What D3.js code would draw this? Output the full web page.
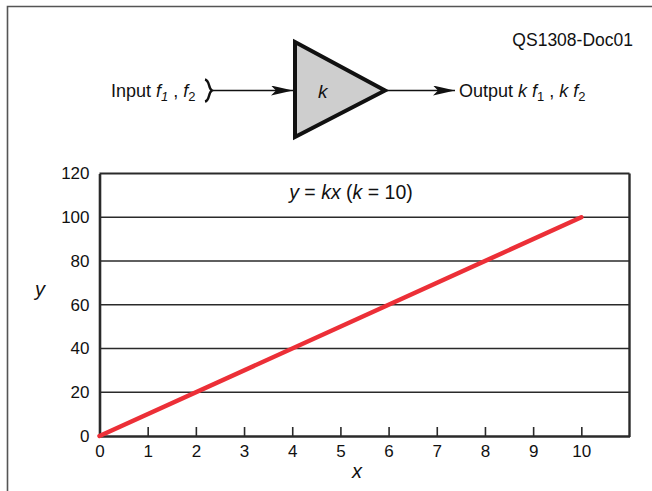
<!DOCTYPE html>
<html>
<head>
<meta charset="utf-8">
<script src="https://cdn.jsdelivr.net/npm/d3@7"></script>
<style>
  html, body { margin: 0; padding: 0; background: #fff; }
  svg { display: block; font-family: "Liberation Sans", Arial, sans-serif; }
</style>
</head>
<body>
<svg id="chart" width="652" height="491"></svg>
<script>
// Gain k applied to the input: y = k x
const gainK = 10;
const xValues = [0, 10];
const yValues = [0, 100];
const xTicks = [0, 1, 2, 3, 4, 5, 6, 7, 8, 9, 10];
const yTicks = [0, 20, 40, 60, 80, 100, 120];

const svg = d3.select("#chart");
const W = 652, H = 491;
const FONT = "Liberation Sans, Arial, sans-serif";

// outer frame (runs off the right and bottom edges)
svg.append("path")
  .attr("d", `M7.5,${H + 5} V6.5 H${W + 5}`)
  .attr("fill", "none")
  .attr("stroke", "#555")
  .attr("stroke-width", 1.6);

svg.append("text")
  .attr("x", 633).attr("y", 46)
  .attr("text-anchor", "end")
  .attr("font-size", 17.5)
  .attr("fill", "#111")
  .text("QS1308-Doc01");

// ---------- amplifier block diagram ----------
const defs = svg.append("defs");
defs.append("marker")
  .attr("id", "arrow")
  .attr("viewBox", "0 0 22 10")
  .attr("refX", 22).attr("refY", 5)
  .attr("markerWidth", 22).attr("markerHeight", 10)
  .attr("markerUnits", "userSpaceOnUse")
  .attr("orient", "auto")
  .append("path")
  .attr("d", "M0,0 L22,5 L0,10 L5,5 Z")
  .attr("fill", "#111");

const midY = 90.5;

// input line with brace
svg.append("line")
  .attr("x1", 211).attr("y1", midY).attr("x2", 293).attr("y2", midY)
  .attr("stroke", "#111").attr("stroke-width", 1.6)
  .attr("marker-end", "url(#arrow)");
svg.append("path")
  .attr("d", `M205,${midY - 11} C210,${midY - 10} 208,${midY - 2} 212,${midY} C208,${midY + 2} 210,${midY + 10} 205,${midY + 11}`)
  .attr("fill", "none").attr("stroke", "#111").attr("stroke-width", 2.4);

// output line
svg.append("line")
  .attr("x1", 386).attr("y1", midY).attr("x2", 455).attr("y2", midY)
  .attr("stroke", "#111").attr("stroke-width", 1.6)
  .attr("marker-end", "url(#arrow)");

// triangle
svg.append("path")
  .attr("d", `M295,42 L385,${midY} L295,137 Z`)
  .attr("fill", "#cecece")
  .attr("stroke", "#111")
  .attr("stroke-width", 4)
  .attr("stroke-linejoin", "miter");

svg.append("text")
  .attr("x", 318).attr("y", 98)
  .attr("font-size", 19).attr("font-style", "italic").attr("fill", "#111")
  .text("k");

// input label
const inLabel = svg.append("text")
  .attr("x", 111).attr("y", 97)
  .attr("font-size", 18).attr("fill", "#111");
inLabel.append("tspan").text("Input ");
inLabel.append("tspan").attr("font-style", "italic").text("f");
inLabel.append("tspan").attr("font-style", "italic").attr("font-size", 13).attr("dy", 4).text("1");
inLabel.append("tspan").attr("dy", -4).text(" , ");
inLabel.append("tspan").attr("font-style", "italic").text("f");
inLabel.append("tspan").attr("font-size", 13).attr("dy", 4).text("2");

// output label
const outLabel = svg.append("text")
  .attr("x", 459).attr("y", 97)
  .attr("font-size", 18).attr("fill", "#111");
outLabel.append("tspan").text("Output ");
outLabel.append("tspan").attr("font-style", "italic").text("k f");
outLabel.append("tspan").attr("font-size", 13).attr("dy", 4).text("1");
outLabel.append("tspan").attr("dy", -4).text(" , ");
outLabel.append("tspan").attr("font-style", "italic").text("k f");
outLabel.append("tspan").attr("font-size", 13).attr("dy", 4).text("2");

// ---------- chart ----------
const plot = { left: 99.5, right: 629.5, top: 173.5, bottom: 436 };
const x = d3.scaleLinear().domain([0, 11]).range([plot.left, plot.right]);
const y = d3.scaleLinear().domain([0, 120]).range([plot.bottom, plot.top]);

// horizontal gridlines
svg.append("g")
  .selectAll("line")
  .data(yTicks.filter(t => t > 0 && t < 120))
  .join("line")
  .attr("x1", plot.left).attr("x2", plot.right)
  .attr("y1", d => y(d)).attr("y2", d => y(d))
  .attr("stroke", "#2a2a2a").attr("stroke-width", 1.3);

// frame: top and right thinner, left and bottom axes heavier
svg.append("line")
  .attr("x1", plot.left).attr("x2", plot.right)
  .attr("y1", plot.top).attr("y2", plot.top)
  .attr("stroke", "#2a2a2a").attr("stroke-width", 2);
svg.append("line")
  .attr("x1", plot.right).attr("x2", plot.right)
  .attr("y1", plot.top).attr("y2", plot.bottom + 1)
  .attr("stroke", "#2a2a2a").attr("stroke-width", 2.4);

// y axis labels (no tick marks)
const yAxis = d3.axisLeft(y).tickValues(yTicks).tickSize(0).tickPadding(10);
const gy = svg.append("g").attr("transform", `translate(${plot.left},0)`)
  .call(yAxis)
  .attr("font-size", 17).attr("font-family", FONT);
gy.select(".domain").attr("stroke", "#2a2a2a").attr("stroke-width", 2.6);
gy.selectAll("text").attr("fill", "#111");

// x axis with inward ticks
const xAxis = d3.axisBottom(x).tickValues(xTicks).tickSize(-9).tickPadding(0).tickSizeOuter(0);
const gx = svg.append("g").attr("transform", `translate(0,${plot.bottom})`)
  .call(xAxis)
  .attr("font-size", 17).attr("font-family", FONT);
gx.select(".domain").attr("stroke", "#2a2a2a").attr("stroke-width", 2.6);
gx.selectAll(".tick line").attr("stroke", "#2a2a2a").attr("stroke-width", 1.6);
gx.selectAll("text").attr("fill", "#111").attr("y", 0).attr("dy", "1.25em");

// the y = kx line
const line = d3.line().x(d => x(d[0])).y(d => y(d[1]));
svg.append("path")
  .datum(xValues.map((v, i) => [v, yValues[i]]))
  .attr("d", line)
  .attr("fill", "none")
  .attr("stroke", "#ec2f37")
  .attr("stroke-width", 4.5)
  .attr("stroke-linecap", "round");

// title
const title = svg.append("text")
  .attr("x", 351).attr("y", 199)
  .attr("text-anchor", "middle")
  .attr("font-size", 19.5).attr("fill", "#111");
title.append("tspan").attr("font-style", "italic").text("y");
title.append("tspan").text(" = ");
title.append("tspan").attr("font-style", "italic").text("kx");
title.append("tspan").text(" (");
title.append("tspan").attr("font-style", "italic").text("k");
title.append("tspan").text(` = ${gainK})`);

// axis titles
svg.append("text")
  .attr("x", 40).attr("y", 296)
  .attr("text-anchor", "middle")
  .attr("font-size", 20).attr("font-style", "italic").attr("fill", "#111")
  .text("y");
svg.append("text")
  .attr("x", 357).attr("y", 478)
  .attr("text-anchor", "middle")
  .attr("font-size", 20).attr("font-style", "italic").attr("fill", "#111")
  .text("x");
</script>
</body>
</html>
